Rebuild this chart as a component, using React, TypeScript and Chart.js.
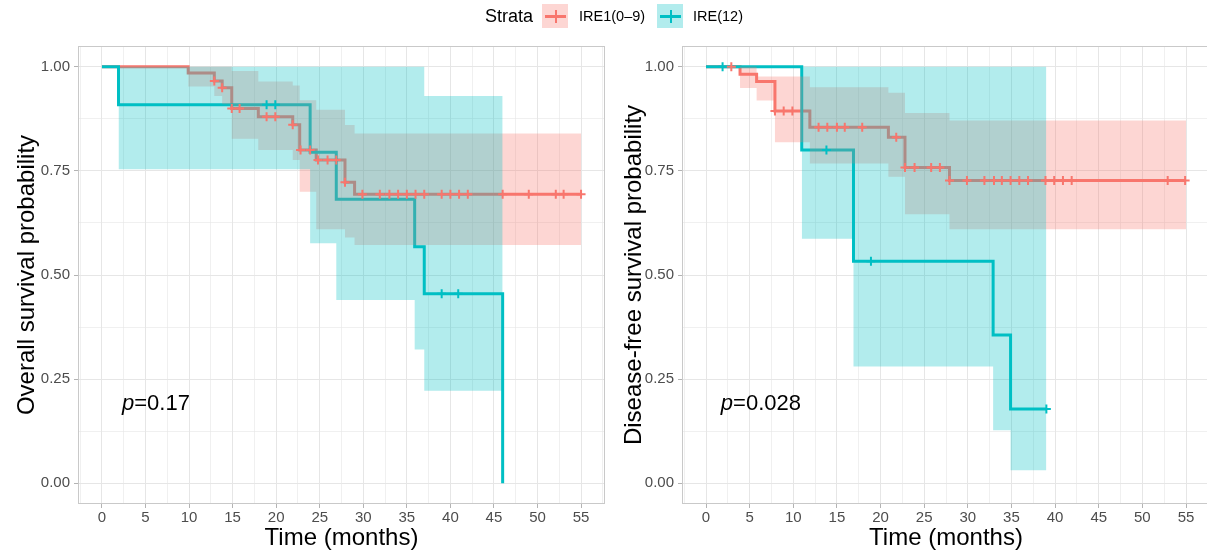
import React, { useEffect, useRef } from 'react';
import { Chart, registerables } from 'chart.js';

Chart.register(...registerables);

const RED = '#F8766D';
const TEAL = '#00BFC4';
const RED_FILL = 'rgba(248,118,109,0.3)';
const TEAL_FILL = 'rgba(0,191,196,0.3)';
const FONT = "'Liberation Sans', Arial, Helvetica, sans-serif";

// ---- axis ticks ----
const xMajorTicks = [0, 5, 10, 15, 20, 25, 30, 35, 40, 45, 50, 55];
const xTickLabels = ['0', '5', '10', '15', '20', '25', '30', '35', '40', '45', '50', '55'];
const xMinorTicks = [-2.5, 2.5, 7.5, 12.5, 17.5, 22.5, 27.5, 32.5, 37.5, 42.5, 47.5, 52.5, 57.5];
const yMajorTicks = [0, 0.25, 0.5, 0.75, 1];
const yTickLabels = ['0.00', '0.25', '0.50', '0.75', '1.00'];
const yMinorTicks = [0.125, 0.375, 0.625, 0.875];

// ---- legend ----
const strataNames = ['IRE1(0–9)', 'IRE(12)'];

// ---- Left panel: overall survival ----
const osRedTimes = [0, 9.9, 12.9, 13.8, 14.9, 17.95, 21.9, 22.7, 24.6, 27.9, 29.0, 55.0];
const osRedSurv = [1, 0.985, 0.966, 0.95, 0.9, 0.88, 0.861, 0.8, 0.776, 0.723, 0.694, 0.694];
const osRedCensor = [12.9, 13.8, 14.9, 15.8, 18.9, 19.9, 21.9, 22.8, 23.9, 24.8, 25.9, 26.9, 27.9, 29.9, 31.9, 33.0, 34.0, 35.0, 36.0, 37.0, 39.0, 40.0, 41.0, 42.0, 46.0, 49.0, 52.1, 53.0, 55.0];
const osRedBandTimes = [9.9, 12.9, 13.8, 14.9, 17.95, 21.9, 22.7, 24.6, 27.9, 29.0, 55.0];
const osRedUpper = [1, 1, 1, 0.99, 0.965, 0.955, 0.92, 0.897, 0.86, 0.84, 0.84];
const osRedLower = [0.953, 0.93, 0.91, 0.827, 0.8, 0.776, 0.7, 0.61, 0.59, 0.572, 0.572];

const osTealTimes = [0, 1.9, 23.9, 26.9, 35.9, 37.0, 46.0];
const osTealSurv = [1, 0.909, 0.795, 0.682, 0.568, 0.455, 0];
const osTealCensor = [18.9, 19.9, 39.0, 40.9];
const osTealBandTimes = [1.9, 23.9, 26.9, 35.9, 37.0, 46.0];
const osTealUpper = [1, 1, 1, 1, 0.93, 0.93];
const osTealLower = [0.754, 0.576, 0.44, 0.321, 0.222, 0.222];

// ---- Right panel: disease-free survival ----
const dfsRedTimes = [0, 3.9, 5.8, 7.9, 11.9, 20.9, 22.8, 27.9, 55.0];
const dfsRedSurv = [1, 0.982, 0.965, 0.894, 0.855, 0.831, 0.758, 0.727, 0.727];
const dfsRedCensor = [2.9, 7.9, 8.9, 9.9, 12.9, 13.9, 15.0, 15.9, 17.9, 21.8, 22.8, 23.9, 25.8, 26.8, 27.9, 29.9, 31.9, 33.0, 33.9, 34.9, 35.9, 36.9, 38.9, 39.9, 40.9, 41.9, 52.9, 54.9];
const dfsRedBandTimes = [3.9, 5.8, 7.9, 11.9, 20.9, 22.8, 27.9, 55.0];
const dfsRedUpper = [1, 0.977, 0.977, 0.951, 0.938, 0.889, 0.871, 0.871];
const dfsRedLower = [0.949, 0.919, 0.819, 0.768, 0.736, 0.646, 0.61, 0.61];

const dfsTealTimes = [0, 10.97, 16.9, 32.9, 34.9, 39.0];
const dfsTealSurv = [1, 0.8, 0.533, 0.356, 0.178, 0.178];
const dfsTealCensor = [1.9, 13.8, 18.9, 39.0];
const dfsTealBandTimes = [10.97, 16.9, 32.9, 34.9, 39.0];
const dfsTealUpper = [1, 1, 1, 1, 1];
const dfsTealLower = [0.587, 0.28, 0.127, 0.031, 0.031];

type Spec = {
  yTitle: string;
  pText: string;
  pX: number;
  pY: number;
  yWidth: number;
  padRight: number;
  redTimes: number[]; redSurv: number[]; redCensor: number[];
  redBandTimes: number[]; redUpper: number[]; redLower: number[];
  tealTimes: number[]; tealSurv: number[]; tealCensor: number[];
  tealBandTimes: number[]; tealUpper: number[]; tealLower: number[];
};

const leftSpec: Spec = {
  yTitle: 'Overall survival probability', pText: '=0.17', pX: 2.3, pY: 0.176, yWidth: 78, padRight: 2,
  redTimes: osRedTimes, redSurv: osRedSurv, redCensor: osRedCensor,
  redBandTimes: osRedBandTimes, redUpper: osRedUpper, redLower: osRedLower,
  tealTimes: osTealTimes, tealSurv: osTealSurv, tealCensor: osTealCensor,
  tealBandTimes: osTealBandTimes, tealUpper: osTealUpper, tealLower: osTealLower,
};

const rightSpec: Spec = {
  yTitle: 'Disease-free survival probability', pText: '=0.028', pX: 1.7, pY: 0.176, yWidth: 75, padRight: 3,
  redTimes: dfsRedTimes, redSurv: dfsRedSurv, redCensor: dfsRedCensor,
  redBandTimes: dfsRedBandTimes, redUpper: dfsRedUpper, redLower: dfsRedLower,
  tealTimes: dfsTealTimes, tealSurv: dfsTealSurv, tealCensor: dfsTealCensor,
  tealBandTimes: dfsTealBandTimes, tealUpper: dfsTealUpper, tealLower: dfsTealLower,
};

function zip(ts: number[], vs: number[]) {
  return ts.map((t, i) => ({ x: t, y: vs[i] }));
}

function levelAt(ts: number[], vs: number[], t: number) {
  let v = vs[0];
  for (let i = 0; i < ts.length; i++) if (ts[i] <= t + 1e-9) v = vs[i];
  return v;
}

const isMajorX = (v: number) => xMajorTicks.indexOf(v) >= 0;
const isMajorY = (v: number) => yMajorTicks.some((m) => Math.abs(m - v) < 1e-9);

function curve(ts: number[], vs: number[], color: string, order: number) {
  return {
    type: 'line', data: zip(ts, vs), stepped: true, borderColor: color, borderWidth: 3,
    pointRadius: 0, fill: false, order, borderCapStyle: 'butt', borderJoinStyle: 'miter',
  };
}

function bandEdge(ts: number[], vs: number[], fill: any, bg: string) {
  return {
    type: 'line', data: zip(ts, vs), stepped: true, borderColor: 'rgba(0,0,0,0)', borderWidth: 0,
    pointRadius: 0, fill, backgroundColor: bg, order: 1,
  };
}

function censors(ts: number[], vs: number[], cs: number[], color: string) {
  return {
    type: 'line', data: cs.map((c) => ({ x: c, y: levelAt(ts, vs, c) })), showLine: false,
    pointStyle: 'cross', pointRadius: 4.5, pointBorderWidth: 2, pointBorderColor: color,
    pointBackgroundColor: color, borderColor: color, order: 0,
  };
}

function makeConfig(s: Spec): any {
  const borderPlugin = {
    id: 'panelBorder',
    afterDatasetsDraw(chart: any) {
      const { ctx, chartArea: a } = chart;
      ctx.save();
      ctx.strokeStyle = '#C9C9C9';
      ctx.lineWidth = 1;
      ctx.strokeRect(a.left + 0.5, a.top + 0.5, a.right - a.left - 1, a.bottom - a.top - 1);
      ctx.restore();
    },
  };
  const pPlugin = {
    id: 'pLabel',
    afterDatasetsDraw(chart: any) {
      const { ctx, scales } = chart;
      const x = scales.x.getPixelForValue(s.pX);
      const y = scales.y.getPixelForValue(s.pY);
      ctx.save();
      ctx.fillStyle = '#000';
      ctx.textAlign = 'left';
      ctx.textBaseline = 'alphabetic';
      ctx.font = `italic 22px ${FONT}`;
      ctx.fillText('p', x, y);
      const w = ctx.measureText('p').width;
      ctx.font = `22px ${FONT}`;
      ctx.fillText(s.pText, x + w, y);
      ctx.restore();
    },
  };

  return {
    type: 'line',
    data: {
      datasets: [
        curve(s.redTimes, s.redSurv, RED, 3),
        curve(s.tealTimes, s.tealSurv, TEAL, 2),
        bandEdge(s.tealBandTimes, s.tealUpper, false, TEAL_FILL),
        bandEdge(s.tealBandTimes, s.tealLower, '-1', TEAL_FILL),
        bandEdge(s.redBandTimes, s.redUpper, false, RED_FILL),
        bandEdge(s.redBandTimes, s.redLower, '-1', RED_FILL),
        censors(s.redTimes, s.redSurv, s.redCensor, RED),
        censors(s.tealTimes, s.tealSurv, s.tealCensor, TEAL),
      ],
    },
    options: {
      animation: false,
      responsive: false,
      events: [],
      layout: { autoPadding: false, padding: { left: 0, right: s.padRight, top: 46, bottom: 0 } },
      plugins: { legend: { display: false }, tooltip: { enabled: false } },
      scales: {
        x: {
          type: 'linear', min: -2.75, max: 57.75,
          afterBuildTicks: (sc: any) => {
            sc.ticks = [...xMinorTicks, ...xMajorTicks].sort((a, b) => a - b).map((v) => ({ value: v }));
          },
          afterFit: (sc: any) => {
            sc.height = 50;
            sc.paddingLeft = 0;
            sc.paddingRight = 0;
          },
          ticks: {
            autoSkip: false, maxRotation: 0, minRotation: 0, padding: 1, color: '#4D4D4D',
            font: { family: FONT, size: 15 },
            callback: (v: number) => (isMajorX(v) ? xTickLabels[xMajorTicks.indexOf(v)] : ''),
          },
          grid: {
            color: '#E6E6E6',
            lineWidth: (c: any) => (c.tick && isMajorX(c.tick.value) ? 1 : 0.6),
            tickColor: (c: any) => (c.tick && isMajorX(c.tick.value) ? '#B3B3B3' : 'rgba(0,0,0,0)'),
            tickLength: 4,
          },
          border: { display: false },
          title: {
            display: true, text: 'Time (months)', color: '#000',
            font: { family: FONT, size: 24 }, padding: { top: 0, bottom: 1 },
          },
        },
        y: {
          type: 'linear', min: -0.05, max: 1.05,
          afterBuildTicks: (sc: any) => {
            sc.ticks = [...yMinorTicks, ...yMajorTicks].sort((a, b) => a - b).map((v) => ({ value: v }));
          },
          afterFit: (sc: any) => {
            sc.width = s.yWidth;
            sc.paddingTop = 0;
            sc.paddingBottom = 0;
          },
          ticks: {
            autoSkip: false, padding: 4, color: '#4D4D4D',
            font: { family: FONT, size: 15 },
            callback: (v: number) => {
              const i = yMajorTicks.findIndex((m) => Math.abs(m - v) < 1e-9);
              return i >= 0 ? yTickLabels[i] : '';
            },
          },
          grid: {
            color: '#E6E6E6',
            lineWidth: (c: any) => (c.tick && isMajorY(c.tick.value) ? 1 : 0.6),
            tickColor: (c: any) => (c.tick && isMajorY(c.tick.value) ? '#B3B3B3' : 'rgba(0,0,0,0)'),
            tickLength: 4,
          },
          border: { display: false },
          title: {
            display: true, text: s.yTitle, color: '#000',
            font: { family: FONT, size: 24 }, padding: { top: 13, bottom: 0 },
          },
        },
      },
    },
    plugins: [borderPlugin, pPlugin],
  };
}

function Panel({ spec, left, width }: { spec: Spec; left: number; width: number }) {
  const ref = useRef<HTMLCanvasElement>(null);
  useEffect(() => {
    const chart = new Chart(ref.current as HTMLCanvasElement, makeConfig(spec));
    return () => chart.destroy();
  }, [spec]);
  return (
    <canvas
      ref={ref}
      width={width}
      height={554}
      style={{ position: 'absolute', left, top: 0, width, height: 554 }}
    />
  );
}

function LegendKey({ left, fill, color }: { left: number; fill: string; color: string }) {
  return (
    <div style={{ position: 'absolute', left, top: 4, width: 26, height: 24, background: fill }}>
      <div style={{ position: 'absolute', left: 3, top: 10.5, width: 21, height: 3, background: color }} />
      <div style={{ position: 'absolute', left: 12.5, top: 6, width: 2, height: 13, background: color }} />
    </div>
  );
}

export default function App() {
  const textBase: React.CSSProperties = {
    position: 'absolute', top: 4, height: 24, lineHeight: '24px', fontFamily: FONT, color: '#000', whiteSpace: 'nowrap',
  };
  return (
    <div
      style={{
        position: 'fixed', left: 0, top: 0, width: 1207, height: 554, overflow: 'hidden', background: '#fff',
      }}
    >
      <Panel spec={leftSpec} left={0} width={607} />
      <Panel spec={rightSpec} left={607} width={606} />
      <div style={{ ...textBase, left: 485, fontSize: 18 }}>Strata</div>
      <LegendKey left={542} fill={RED_FILL} color={RED} />
      <div style={{ ...textBase, left: 579, fontSize: 14.5 }}>{strataNames[0]}</div>
      <LegendKey left={657} fill={TEAL_FILL} color={TEAL} />
      <div style={{ ...textBase, left: 693, fontSize: 14.5 }}>{strataNames[1]}</div>
    </div>
  );
}
